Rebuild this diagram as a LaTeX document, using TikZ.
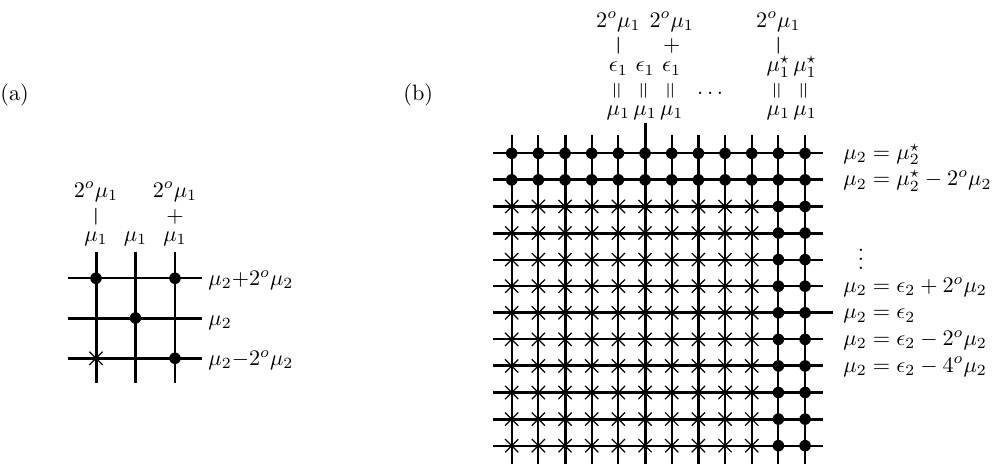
\documentclass[tikz,border=0pt]{standalone}
\usepackage{amsmath,amssymb}
\usetikzlibrary{shapes.misc}
\tikzset{
  dotmark/.style={circle,fill=black,inner sep=0pt,minimum size=5.2pt},
  xmark/.style={cross out,draw=black,line width=0.55pt,inner sep=0pt,minimum size=5.4pt},
  lbl/.style={inner sep=0pt,anchor=base},
  rotop/.style={inner sep=0pt,rotate=90},
  minusop/.style={inner sep=0pt,rotate=90,scale=1.25},
  plainop/.style={inner sep=0pt},
  rowlbl/.style={inner sep=0pt,anchor=base west}
}
\begin{document}
\begin{tikzpicture}[x=0.45pt,y=-0.45pt]
\useasboundingbox (0,0) rectangle (998,469);

% ---------- panel labels
\node[rowlbl] (pa) at (0,100) {(a)};
\node[rowlbl] (pb) at (403,100) {(b)};

% ---------- panel (a)
\foreach \i/\cx/\w in {1/96/1.35,2/135.5/1.35,3/175/0.95} {
  \coordinate (aT\i) at (\cx,251.7);
  \coordinate (aB\i) at (\cx,383.3);
  \draw[line width=\w pt] (aT\i) -- (aB\i);
}
\foreach \j/\cy/\w in {1/278.3/0.95,2/318/1.35,3/358.3/1.35} {
  \coordinate (aL\j) at (68.3,\cy);
  \coordinate (aR\j) at (201.7,\cy);
  \draw[line width=\w pt] (aL\j) -- (aR\j);
}
\node[dotmark] (ad11) at (96,278.3) {};
\node[dotmark] (ad31) at (175,278.3) {};
\node[dotmark] (ad22) at (135.5,318) {};
\node[dotmark] (ad33) at (175,358.3) {};
\node[xmark]   (ax13) at (96,358.3) {};

\node[lbl] (at1) at (96,197) {$2^o\mu_1$};
\node[minusop] (ao1) at (96,217) {$-$};
\node[lbl] (am1) at (96,241) {$\mu_1$};
\node[lbl] (am2) at (135.5,241) {$\mu_1$};
\node[lbl] (at3) at (175,197) {$2^o\mu_1$};
\node[plainop] (ao3) at (175,217) {$+$};
\node[lbl] (am3) at (175,241) {$\mu_1$};

\node[rowlbl] (ar1) at (208,285.3) {$\mu_2{+}2^o\mu_2$};
\node[rowlbl] (ar2) at (208,325) {$\mu_2$};
\node[rowlbl] (ar3) at (208,365.3) {$\mu_2{-}2^o\mu_2$};

% ---------- panel (b)
\foreach \i in {1,...,12} {
  \pgfmathsetmacro\cx{511.7+(\i-1)*26.67}
  \pgfmathsetmacro\ctop{(\i==6) ? 123.3 : 135}
  \pgfmathsetmacro\lw{((\i==3)||(\i==6)||(\i==8)) ? 1.35 : 0.95}
  \coordinate (bT\i) at (\cx,\ctop);
  \coordinate (bB\i) at (\cx,464);
  \draw[line width=\lw pt] (bT\i) -- (bB\i);
}
\foreach \j in {1,...,12} {
  \pgfmathsetmacro\cy{153.3+(\j-1)*26.58}
  \pgfmathsetmacro\cright{(\j==7) ? 833.3 : 823.3}
  \pgfmathsetmacro\lw{((\j==2)||(\j==4)||(\j==7)||(\j==9)||(\j==11)) ? 1.35 : 0.95}
  \coordinate (bL\j) at (493.3,\cy);
  \coordinate (bR\j) at (\cright,\cy);
  \draw[line width=\lw pt] (bL\j) -- (bR\j);
}
\foreach \i in {1,...,12} {
  \foreach \j in {1,...,12} {
    \pgfmathsetmacro\cx{511.7+(\i-1)*26.67}
    \pgfmathsetmacro\cy{153.3+(\j-1)*26.58}
    \pgfmathtruncatemacro\isdot{((\j<3)||(\i>10)) ? 1 : 0}
    \ifnum\isdot=1
      \node[dotmark] (bp\i-\j) at (\cx,\cy) {};
    \else
      \node[xmark] (bp\i-\j) at (\cx,\cy) {};
    \fi
  }
}

% column labels (b)
\node[lbl] (bt5) at (618.4,27) {$2^o\mu_1$};
\node[minusop] (bo5) at (618.4,46) {$-$};
\node[lbl] (be5) at (618.4,71.7) {$\epsilon_1$};
\node[rotop] (bq5) at (618.4,91) {$=$};
\node[lbl] (bm5) at (618.4,115) {$\mu_1$};

\node[lbl] (be6) at (645.05,71.7) {$\epsilon_1$};
\node[rotop] (bq6) at (645.05,91) {$=$};
\node[lbl] (bm6) at (645.05,115) {$\mu_1$};

\node[lbl] (bt7) at (671.7,27) {$2^o\mu_1$};
\node[plainop] (bo7) at (671.7,46) {$+$};
\node[lbl] (be7) at (671.7,71.7) {$\epsilon_1$};
\node[rotop] (bq7) at (671.7,91) {$=$};
\node[lbl] (bm7) at (671.7,115) {$\mu_1$};

\node[inner sep=0pt] (bdots) at (712,93) {$\dots$};

\node[lbl] (bt11) at (778.4,27) {$2^o\mu_1$};
\node[minusop] (bo11) at (778.4,46) {$-$};
\node[lbl] (be11) at (778.4,71.7) {$\mu_1^\star$};
\node[rotop] (bq11) at (778.4,91) {$=$};
\node[lbl] (bm11) at (778.4,115) {$\mu_1$};

\node[lbl] (be12) at (805.07,71.7) {$\mu_1^\star$};
\node[rotop] (bq12) at (805.07,91) {$=$};
\node[lbl] (bm12) at (805.07,115) {$\mu_1$};

% row labels (b)
\node[rowlbl] (br1) at (843,159.3) {$\mu_2 = \mu_2^\star$};
\node[rowlbl] (br2) at (843,185.9) {$\mu_2 = \mu_2^\star - 2^o\mu_2$};
\node[inner sep=0pt] (bvd) at (861,253) {$\vdots$};
\node[rowlbl] (br6) at (843,292.2) {$\mu_2 = \epsilon_2 + 2^o\mu_2$};
\node[rowlbl] (br7) at (843,318.8) {$\mu_2 = \epsilon_2$};
\node[rowlbl] (br8) at (843,345.4) {$\mu_2 = \epsilon_2 - 2^o\mu_2$};
\node[rowlbl] (br9) at (843,372) {$\mu_2 = \epsilon_2 - 4^o\mu_2$};
\end{tikzpicture}
\end{document}
